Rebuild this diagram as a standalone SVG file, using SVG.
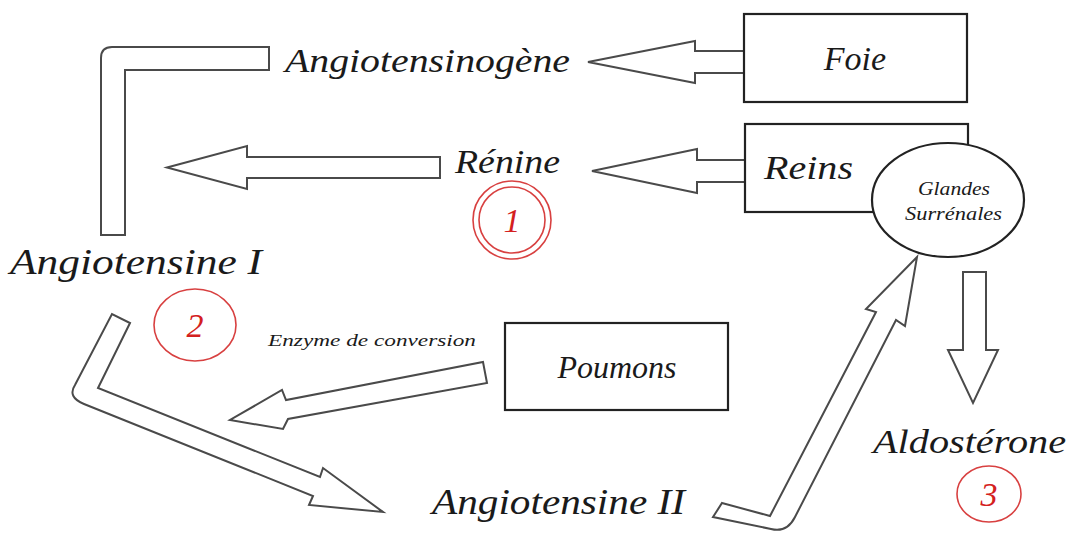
<svg xmlns="http://www.w3.org/2000/svg" width="1071" height="535" viewBox="0 0 1071 535">
  <style>
    .box { fill: #fff; stroke: #222; stroke-width: 2.2; }
    .arrow { fill: #fff; stroke: #4a4a4a; stroke-width: 2; stroke-linejoin: miter; }
    .lbl { font-family: "Liberation Serif", "DejaVu Serif", serif; font-style: italic; fill: #1a1a1a; }
    .num { font-family: "Liberation Serif", "DejaVu Serif", serif; font-style: italic; fill: #d42020; font-size: 34px; text-anchor: middle; }
    .ring { fill: none; stroke: #d84040; stroke-width: 1.6; }
  </style>

  <!-- background -->
  <rect width="1071" height="535" fill="#fff"/>

  <!-- block arrows -->
  <g id="connectors">
    <!-- Angiotensinogène -> Angiotensine I (bent) -->
    <path class="arrow" d="M269,47 L112,47 Q101,47 101,58 L101,235 L125,235 L125,70 L269,70 Z"/>
    <!-- Rénine -> left -->
    <polygon class="arrow" points="167,167.5 247,146 247,157 440,157 440,178 247,178 247,189"/>
    <!-- Foie -> Angiotensinogène -->
    <polygon class="arrow" points="588,62 695,41 695,51 744,51 744,73 695,73 695,83"/>
    <!-- Reins -> Rénine -->
    <polygon class="arrow" points="592,171 697,149 697,160 745,160 745,182 697,182 697,193"/>
    <!-- Enzyme de conversion (from Poumons) -->
    <polygon class="arrow" points="483,362 487,383 288,419 283,429 230,420 282,390 286,400"/>
    <!-- Angiotensine I -> Angiotensine II (bent) -->
    <path class="arrow" d="M130,323 L98,388 L320,477 L323,468 L383,512 L309,505 L313,496 L84,404 Q67,397 75,385 L112,314 Z"/>
    <!-- Angiotensine II -> Glandes surrénales (bent) -->
    <path class="arrow" d="M722,503 L770,516 L876,312 L866,309 L917,257 L905,326 L896,320 L795,517 Q787,533 771,529 L713,517 Z"/>
    <!-- Glandes surrénales -> Aldostérone -->
    <polygon class="arrow" points="963,272 986,272 986,350 998,350 973,403 948,350 963,350"/>
  </g>

  <!-- organs -->
  <g id="foie">
    <rect class="box" x="744" y="14" width="223" height="88"/>
    <text class="lbl" x="855" y="70" font-size="34" text-anchor="middle">Foie</text>
  </g>
  <g id="reins">
    <rect class="box" x="745" y="124" width="223" height="88"/>
    <text class="lbl" x="764" y="179" font-size="34" textLength="89" lengthAdjust="spacingAndGlyphs">Reins</text>
  </g>
  <g id="glandes-surrenales">
    <ellipse class="box" cx="948" cy="200" rx="76" ry="57"/>
    <text class="lbl" x="918" y="195" font-size="18" textLength="72" lengthAdjust="spacingAndGlyphs">Glandes</text>
    <text class="lbl" x="905" y="220" font-size="18" textLength="97" lengthAdjust="spacingAndGlyphs">Surrénales</text>
  </g>
  <g id="poumons">
    <rect class="box" x="505" y="323" width="223" height="87"/>
    <text class="lbl" x="617" y="378" font-size="32" text-anchor="middle">Poumons</text>
  </g>

  <!-- substances -->
  <g id="angiotensinogene">
    <text class="lbl" x="285" y="72" font-size="34" textLength="285" lengthAdjust="spacingAndGlyphs">Angiotensinogène</text>
  </g>
  <g id="renine">
    <text class="lbl" x="455" y="173" font-size="34" textLength="105" lengthAdjust="spacingAndGlyphs">Rénine</text>
  </g>
  <g id="angiotensine-1">
    <text class="lbl" x="10" y="274" font-size="36" textLength="252" lengthAdjust="spacingAndGlyphs">Angiotensine I</text>
  </g>
  <g id="enzyme">
    <text class="lbl" x="268" y="346" font-size="17" textLength="208" lengthAdjust="spacingAndGlyphs">Enzyme de conversion</text>
  </g>
  <g id="angiotensine-2">
    <text class="lbl" x="432" y="514" font-size="36" textLength="253" lengthAdjust="spacingAndGlyphs">Angiotensine II</text>
  </g>
  <g id="aldosterone">
    <text class="lbl" x="873" y="453" font-size="34" textLength="193" lengthAdjust="spacingAndGlyphs">Aldostérone</text>
  </g>

  <!-- step markers -->
  <g id="step-1">
    <circle class="ring" cx="512" cy="220" r="39"/>
    <circle class="ring" cx="512" cy="220" r="33"/>
    <text class="num" x="512" y="232">1</text>
  </g>
  <g id="step-2">
    <ellipse class="ring" cx="195" cy="325" rx="41" ry="36"/>
    <text class="num" x="195" y="337">2</text>
  </g>
  <g id="step-3">
    <ellipse class="ring" cx="989" cy="494" rx="32" ry="28"/>
    <text class="num" x="989" y="506">3</text>
  </g>
</svg>
